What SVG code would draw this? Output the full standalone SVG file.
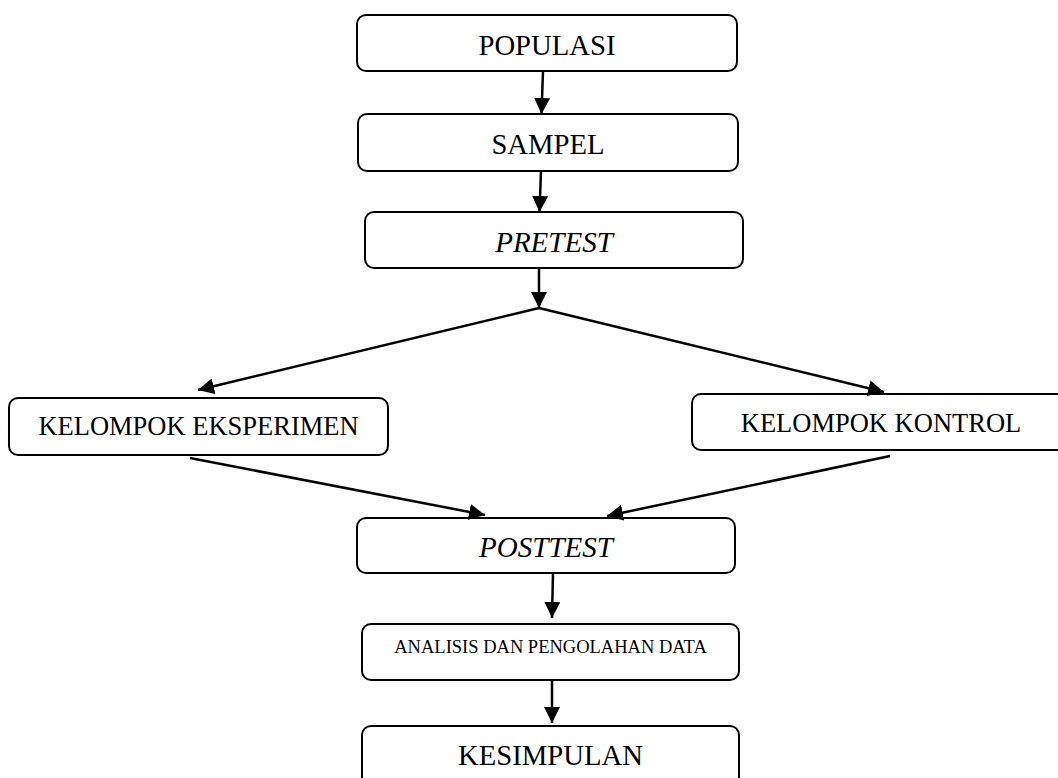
<svg xmlns="http://www.w3.org/2000/svg" width="1058" height="778" viewBox="0 0 1058 778">
<style>
.box{fill:#fff;stroke:#000;stroke-width:2}
.t{font-family:"Liberation Serif","Times New Roman",serif;fill:#000;text-anchor:middle}
.c{stroke:#000;stroke-width:2.5;fill:none}
</style>
<defs>
<marker id="ah" markerUnits="userSpaceOnUse" markerWidth="18" markerHeight="16" refX="16" refY="8" orient="auto">
<path d="M0,0 L16,8 L0,16 Z" fill="#000"/>
</marker>
</defs>
<rect width="1058" height="778" fill="#fff"/>
<g id="populasi"><rect class="box" x="357" y="15" width="380" height="56" rx="9"/><text class="t" x="547" y="55" font-size="28.7">POPULASI</text></g>
<g id="sampel"><rect class="box" x="358" y="114" width="380" height="57" rx="9"/><text class="t" x="548" y="154" font-size="28.7">SAMPEL</text></g>
<g id="pretest"><rect class="box" x="365" y="212" width="378" height="56" rx="9"/><text class="t" x="554" y="252" font-size="29" font-style="italic">PRETEST</text></g>
<g id="eksperimen"><rect class="box" x="9" y="398" width="379" height="57" rx="9"/><text class="t" x="198.5" y="435" font-size="26.5">KELOMPOK EKSPERIMEN</text></g>
<g id="kontrol"><rect class="box" x="692" y="394" width="380" height="56" rx="9"/><text class="t" x="881" y="432" font-size="26.5">KELOMPOK KONTROL</text></g>
<g id="posttest"><rect class="box" x="357" y="518" width="378" height="55" rx="9"/><text class="t" x="546" y="557" font-size="29" font-style="italic">POSTTEST</text></g>
<g id="analisis"><rect class="box" x="362" y="624" width="377" height="56" rx="9"/><text class="t" x="550.5" y="653" font-size="18.5">ANALISIS DAN PENGOLAHAN DATA</text></g>
<g id="kesimpulan"><rect class="box" x="362" y="726" width="377" height="70" rx="9"/><text class="t" x="550.5" y="765" font-size="28.7">KESIMPULAN</text></g>
<g id="connectors">
<line class="c" x1="543" y1="71" x2="541.5" y2="114" marker-end="url(#ah)"/>
<line class="c" x1="541" y1="171" x2="539.5" y2="212" marker-end="url(#ah)"/>
<line class="c" x1="539" y1="268" x2="539" y2="308" marker-end="url(#ah)"/>
<line class="c" x1="539" y1="308" x2="198" y2="390" marker-end="url(#ah)"/>
<line class="c" x1="539" y1="308" x2="884" y2="392" marker-end="url(#ah)"/>
<line class="c" x1="190" y1="458" x2="485" y2="515" marker-end="url(#ah)"/>
<line class="c" x1="890" y1="456" x2="607" y2="516" marker-end="url(#ah)"/>
<line class="c" x1="553" y1="573" x2="552" y2="618" marker-end="url(#ah)"/>
<line class="c" x1="552" y1="680" x2="552" y2="723" marker-end="url(#ah)"/>
</g>
</svg>
